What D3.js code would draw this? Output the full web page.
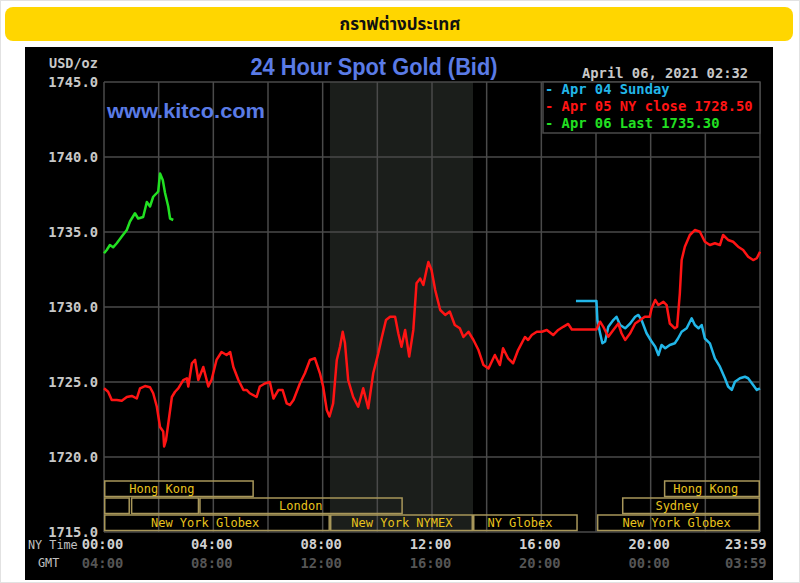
<!DOCTYPE html>
<html>
<head>
<meta charset="utf-8">
<script src="https://cdn.jsdelivr.net/npm/d3@7/dist/d3.min.js"></script>
<style>
  html, body { margin: 0; padding: 0; background: #fff; }
  svg { display: block; }
</style>
</head>
<body>
<svg id="chart" width="800" height="583"></svg>
<script>
// ---------------- DATA ----------------
const headerText = "กราฟต่างประเทศ";
const chartTitle = "24 Hour Spot Gold (Bid)";
const siteText = "www.kitco.com";
const stampText = "April 06, 2021 02:32";
const unitText = "USD/oz";

const yTicks = [1715, 1720, 1725, 1730, 1735, 1740, 1745];
const xTickMinutes = [0, 240, 480, 720, 960, 1200, 1439];
const xTickNY = ["00:00", "04:00", "08:00", "12:00", "16:00", "20:00", "23:59"];
const xTickGMT = ["04:00", "08:00", "12:00", "16:00", "20:00", "00:00", "03:59"];

const legendLabels = ["Apr 04 Sunday", "Apr 05 NY close 1728.50", "Apr 06 Last 1735.30"];

// Apr 04 (Sunday) - minutes since NY midnight, price
const cyanTimes = [1036, 1081, 1083, 1089, 1094, 1100, 1107, 1118, 1125, 1133, 1144, 1155, 1166, 1173, 1180, 1191, 1202, 1210, 1217, 1224, 1232, 1242, 1253, 1260, 1268, 1279, 1290, 1297, 1305, 1312, 1319, 1330, 1341, 1352, 1363, 1370, 1378, 1385, 1396, 1407, 1414, 1425, 1433, 1440];
const cyanPrices = [1730.4, 1730.4, 1729.13, 1728.25, 1727.58, 1727.7, 1728.68, 1729.13, 1729.35, 1728.8, 1728.58, 1728.9, 1729.35, 1729.47, 1729.13, 1728.25, 1727.7, 1727.35, 1726.8, 1727.47, 1727.25, 1727.47, 1727.58, 1727.9, 1728.35, 1728.58, 1729.25, 1728.8, 1728.58, 1728.8, 1727.9, 1727.58, 1726.58, 1726.02, 1725.25, 1724.7, 1724.47, 1725.02, 1725.25, 1725.35, 1725.25, 1724.8, 1724.47, 1724.58];

// Apr 05 (NY close 1728.50)
const redTimes = [0, 9, 17, 28, 39, 50, 61, 72, 79, 90, 101, 108, 116, 123, 130, 132, 136, 141, 149, 156, 163, 174, 182, 185, 193, 200, 207, 218, 229, 236, 247, 258, 269, 277, 284, 295, 306, 313, 320, 335, 342, 353, 364, 372, 383, 392, 401, 408, 416, 430, 441, 452, 463, 474, 481, 489, 495, 503, 511, 518, 524, 529, 536, 547, 558, 569, 580, 591, 602, 610, 619, 628, 639, 646, 653, 661, 670, 679, 686, 694, 701, 708, 712, 719, 727, 738, 749, 759, 770, 781, 789, 800, 811, 822, 833, 844, 858, 869, 876, 887, 898, 909, 924, 931, 939, 950, 961, 972, 986, 997, 1008, 1019, 1027, 1081, 1089, 1096, 1107, 1118, 1129, 1136, 1144, 1155, 1166, 1177, 1187, 1198, 1202, 1210, 1217, 1228, 1235, 1242, 1253, 1258, 1264, 1268, 1275, 1286, 1297, 1308, 1319, 1330, 1341, 1352, 1359, 1370, 1381, 1392, 1403, 1414, 1425, 1433, 1440];
const redPrices = [1724.58, 1724.35, 1723.8, 1723.8, 1723.75, 1724.0, 1724.07, 1723.9, 1724.58, 1724.73, 1724.65, 1724.25, 1723.35, 1722.0, 1721.7, 1720.7, 1721.1, 1722.2, 1724.0, 1724.35, 1724.58, 1725.13, 1725.25, 1724.7, 1726.25, 1726.47, 1725.13, 1726.0, 1724.7, 1725.13, 1726.47, 1727.0, 1726.8, 1727.0, 1726.0, 1725.13, 1724.47, 1724.47, 1724.25, 1724.0, 1724.7, 1724.9, 1725.0, 1723.9, 1724.47, 1724.47, 1723.58, 1723.47, 1723.8, 1724.9, 1725.58, 1726.47, 1726.58, 1725.58, 1724.7, 1723.13, 1722.7, 1723.58, 1726.47, 1727.35, 1728.35, 1727.58, 1725.13, 1724.0, 1723.35, 1724.58, 1723.25, 1725.58, 1726.9, 1728.0, 1729.13, 1729.35, 1729.35, 1728.25, 1727.35, 1728.47, 1726.7, 1728.47, 1731.58, 1731.9, 1731.47, 1732.47, 1733.0, 1732.47, 1731.13, 1729.8, 1729.47, 1729.7, 1728.8, 1728.58, 1728.0, 1728.35, 1727.8, 1727.13, 1726.13, 1725.9, 1726.8, 1726.13, 1727.25, 1726.58, 1726.25, 1727.13, 1728.0, 1727.8, 1728.13, 1728.35, 1728.35, 1728.47, 1728.13, 1728.47, 1728.68, 1728.87, 1728.5, 1728.5, 1729.02, 1728.68, 1728.02, 1728.47, 1728.9, 1728.25, 1727.8, 1728.25, 1728.9, 1729.13, 1729.35, 1729.35, 1729.9, 1730.47, 1730.13, 1730.35, 1730.13, 1728.9, 1728.58, 1728.68, 1730.9, 1733.13, 1734.02, 1734.8, 1735.13, 1735.02, 1734.35, 1734.13, 1734.25, 1734.13, 1734.8, 1734.47, 1734.35, 1734.02, 1733.8, 1733.35, 1733.13, 1733.25, 1733.68];

// Apr 06 (Last 1735.30)
const greenTimes = [0, 6, 13, 20, 28, 39, 50, 57, 68, 75, 86, 94, 101, 108, 116, 119, 123, 129, 134, 141, 145, 152];
const greenPrices = [1733.58, 1733.8, 1734.13, 1733.98, 1734.25, 1734.7, 1735.13, 1735.7, 1736.25, 1735.9, 1736.0, 1737.0, 1736.7, 1737.35, 1737.6, 1737.7, 1738.9, 1738.47, 1737.6, 1736.7, 1735.9, 1735.8];

// Trading sessions (minutes since NY midnight)
const sessionNames  = ["Hong Kong", "", "", "London", "Sydney", "Hong Kong", "New York Globex", "New York NYMEX", "NY Globex", "New York Globex"];
const sessionRows   = [0, 1, 1, 1, 1, 0, 2, 2, 2, 2];
const sessionStarts = [0, 0, 59, 209, 1137, 1229, 0, 496, 810, 1082];
const sessionEnds   = [329, 57, 209, 656, 1440, 1440, 496, 810, 1040, 1440];
const sessionLabelAt = [127, 0, 0, 432, 1258, 1321, 222, 654, 913, 1257];

// Shaded NYMEX hours
const shadeStart = 496, shadeEnd = 810;

// ---------------- DRAW ----------------
const svg = d3.select("#chart");
const W = 800, H = 583;
const mono = "'DejaVu Sans Mono', 'Liberation Mono', monospace";
const sans = "'Liberation Sans', Arial, sans-serif";

// page border
svg.append("rect").attr("x", 0.5).attr("y", 0.5).attr("width", W - 1).attr("height", H - 1)
  .attr("fill", "#fff").attr("stroke", "#e2e2e2");

// header bar
svg.append("rect").attr("x", 5).attr("y", 7).attr("width", 788).attr("height", 34).attr("rx", 8)
  .attr("fill", "#ffd600");
svg.append("text").attr("x", 400).attr("y", 30).attr("text-anchor", "middle")
  .attr("font-family", "'Noto Sans Thai', 'Noto Sans', 'DejaVu Sans', sans-serif")
  .attr("font-weight", "bold").attr("font-size", 17).attr("fill", "#111").text(headerText);

// black panel
svg.append("rect").attr("x", 25).attr("y", 47).attr("width", 748).attr("height", 533).attr("fill", "#000");

const plot = { left: 104, right: 760, top: 82, bottom: 532 };
const x = d3.scaleLinear().domain([0, 1440]).range([plot.left, plot.right]);
const y = d3.scaleLinear().domain([1715, 1745]).range([plot.bottom, plot.top]);

// shaded region
svg.append("rect").attr("x", x(shadeStart)).attr("y", plot.top)
  .attr("width", x(shadeEnd) - x(shadeStart)).attr("height", plot.bottom - plot.top)
  .attr("fill", "#1b1e1b");

// grid
const gridColor = "#4a4a4a";
const grid = svg.append("g");
grid.selectAll("line.h").data(yTicks).join("line")
  .attr("x1", plot.left).attr("x2", plot.right)
  .attr("y1", d => y(d)).attr("y2", d => y(d))
  .attr("stroke", gridColor).attr("stroke-width", 1.5);
const vTicks = d3.range(0, 1441, 120);
grid.selectAll("line.v").data(vTicks).join("line")
  .attr("x1", d => x(d)).attr("x2", d => x(d))
  .attr("y1", plot.top).attr("y2", plot.bottom)
  .attr("stroke", gridColor).attr("stroke-width", 1.5);

// y axis labels
svg.append("g").selectAll("text").data(yTicks).join("text")
  .attr("x", 98).attr("y", d => y(d) + 5).attr("text-anchor", "end")
  .attr("font-family", mono).attr("font-weight", "bold").attr("font-size", 13.8)
  .attr("fill", "#c8c8c8").text(d => d.toFixed(1));
svg.append("text").attr("x", 49).attr("y", 68).attr("font-family", mono).attr("font-weight", "bold")
  .attr("font-size", 13.5).attr("fill", "#c8c8c8").text(unitText);

// x axis labels
svg.append("g").selectAll("text").data(xTickMinutes).join("text")
  .attr("x", (d, i) => i === xTickMinutes.length - 1 ? x(d) + 7 : x(d) - 1.5)
  .attr("y", 549)
  .attr("text-anchor", (d, i) => i === xTickMinutes.length - 1 ? "end" : "middle")
  .attr("font-family", mono).attr("font-weight", "bold").attr("font-size", 13.8)
  .attr("fill", "#d0d0d0").text((d, i) => xTickNY[i]);
svg.append("g").selectAll("text").data(xTickMinutes).join("text")
  .attr("x", (d, i) => i === xTickMinutes.length - 1 ? x(d) + 7 : x(d) - 1.5)
  .attr("y", 568)
  .attr("text-anchor", (d, i) => i === xTickMinutes.length - 1 ? "end" : "middle")
  .attr("font-family", mono).attr("font-weight", "bold").attr("font-size", 13.8)
  .attr("fill", "#555").text((d, i) => xTickGMT[i]);
svg.append("text").attr("x", 28).attr("y", 549).attr("font-family", mono)
  .attr("font-size", 11.8).attr("fill", "#c0c0c0").text("NY Time");
svg.append("text").attr("x", 38).attr("y", 567).attr("font-family", mono)
  .attr("font-size", 11.8).attr("fill", "#c0c0c0").text("GMT");

// sessions
const rowTop = [481, 498, 515];
const rowH = 15.5;
const sessG = svg.append("g");
sessionNames.forEach((name, i) => {
  const r = sessionRows[i];
  sessG.append("rect")
    .attr("x", x(sessionStarts[i]) + 0.75).attr("y", rowTop[r])
    .attr("width", x(sessionEnds[i]) - x(sessionStarts[i]) - 1.5).attr("height", rowH)
    .attr("fill", "none").attr("stroke", "#a8975a").attr("stroke-width", 1.5);
  if (name) {
    sessG.append("text").attr("x", x(sessionLabelAt[i])).attr("y", rowTop[r] + 12)
      .attr("text-anchor", "middle").attr("font-family", mono).attr("font-size", 12)
      .attr("fill", "#e8c31e").text(name);
  }
});

// title & site
svg.append("text").attr("x", 374).attr("y", 75).attr("text-anchor", "middle")
  .attr("font-family", sans).attr("font-weight", "bold").attr("font-size", 23).attr("fill", "#5a7be6")
  .attr("textLength", 247).attr("lengthAdjust", "spacingAndGlyphs").text(chartTitle);
svg.append("text").attr("x", 107).attr("y", 118)
  .attr("font-family", sans).attr("font-weight", "bold").attr("font-size", 21).attr("fill", "#5a7be6")
  .attr("textLength", 158).attr("lengthAdjust", "spacingAndGlyphs").text(siteText);
svg.append("text").attr("x", 582).attr("y", 78)
  .attr("font-family", mono).attr("font-weight", "bold").attr("font-size", 13.8)
  .attr("fill", "#c8c8c8").text(stampText);

// series
const line = d3.line().x(d => x(d[0])).y(d => y(d[1]));
const series = [
  { times: cyanTimes, prices: cyanPrices, color: "#22b6e8" },
  { times: redTimes, prices: redPrices, color: "#ff1414" },
  { times: greenTimes, prices: greenPrices, color: "#22e022" }
];
series.forEach(s => {
  svg.append("path").datum(s.times.map((t, i) => [t, s.prices[i]]))
    .attr("d", line).attr("fill", "none").attr("stroke", s.color)
    .attr("stroke-width", 2.5).attr("stroke-linejoin", "round");
});

// legend
const lg = svg.append("g");
lg.append("rect").attr("x", 543).attr("y", 82).attr("width", plot.right - 543).attr("height", 51)
  .attr("fill", "#000").attr("stroke", "#4a4a4a").attr("stroke-width", 1.5);
const legendColors = ["#22b6e8", "#ff1414", "#22e022"];
legendLabels.forEach((lab, i) => {
  lg.append("text").attr("x", 545).attr("y", 94 + i * 16.8)
    .attr("font-family", mono).attr("font-weight", "bold").attr("font-size", 13.8)
    .attr("fill", legendColors[i]).text("- " + lab);
});
</script>
</body>
</html>
